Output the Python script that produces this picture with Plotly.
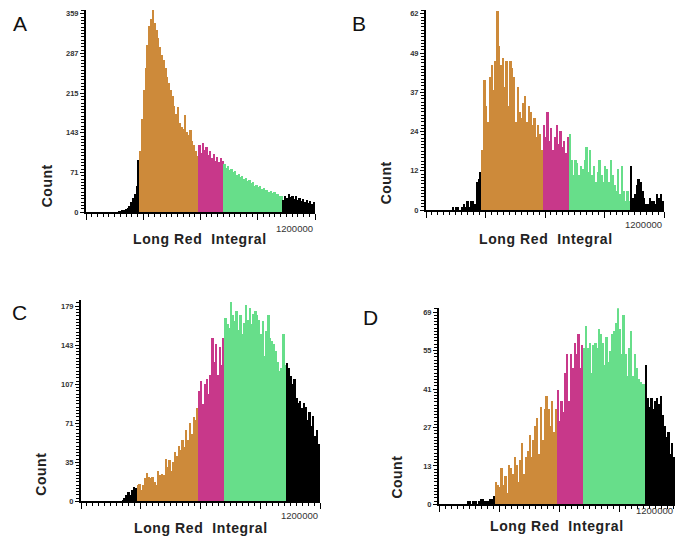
import plotly.graph_objects as go

# ---------------- data ----------------
BIN_WIDTH = 9375            # 256 channels over 0..1,200,000, two channels per bar
X_MAX = 1200000
GATES = [282000, 586000, 726000, 1031000]   # gate edges (Long Red Integral)
GATE_COLORS = ["#000000", "#CD8A3A", "#C8388A", "#67DE8A", "#000000"]

counts_A = [0, 0, 0, 0, 0, 0, 0, 0, 0, 0, 0, 0, 0, 0, 0, 0, 0, 0,
            1, 2, 3, 4, 6, 8, 12, 18, 25, 32, 48, 95,
            110, 168, 222, 262, 302, 338, 350, 366, 342, 330, 316, 300, 285, 275, 262, 245, 234,
            222, 210, 192, 178, 190, 162, 155, 150, 176, 145, 140, 148, 128, 122, 110, 102,
            122, 108, 125, 112, 118, 104, 110, 98, 105, 92, 100, 90, 98, 92,
            88, 80, 84, 76, 78, 72, 75, 68, 70, 64, 66, 60, 62, 56, 58, 52, 55, 48, 50, 45,
            47, 42, 44, 40, 41, 37, 38, 35, 36, 33, 32, 30, 29,
            22, 30, 26, 32, 28, 30, 24, 29, 22, 26, 20, 24, 18, 22, 17, 20, 15, 18]

counts_B = [0, 0, 0, 0, 0, 0, 0, 0, 0, 0, 0, 0, 0, 0,
            1, 0, 1, 1, 0, 1, 2, 1, 3, 1, 3, 3, 2, 9, 10, 12,
            19, 41, 33, 28, 42, 46, 38, 47, 63, 52, 46, 48, 39, 47, 33, 47, 45, 42, 28, 39,
            31, 29, 34, 36, 28, 33, 31, 27, 29, 23, 27, 24, 19,
            27, 23, 31, 22, 26, 19, 23, 27, 21, 25, 20, 22, 18, 23,
            24, 16, 11, 16, 15, 11, 14, 13, 16, 20, 12, 19, 11, 14, 9, 12, 16, 11, 9, 14,
            13, 9, 16, 11, 8, 6, 13, 5, 14, 6, 3, 6, 3,
            14, 4, 5, 8, 10, 9, 6, 4, 2, 2, 4, 3, 3, 2, 5, 4, 5, 3]

counts_C = [0, 0, 0, 0, 0, 0, 0, 0, 0, 0, 0, 0, 0, 0, 0, 0, 0, 0, 0, 0, 0, 0,
            1, 3, 6, 8, 6, 10, 13, 12,
            15, 16, 10, 15, 21, 26, 22, 21, 22, 18, 15, 28, 24, 25, 24, 39, 31, 38, 28, 36,
            45, 41, 51, 47, 56, 50, 65, 56, 72, 62, 77, 74, 85,
            101, 110, 89, 107, 112, 98, 116, 150, 128, 144, 116, 141, 125, 150,
            168, 162, 159, 183, 171, 165, 174, 157, 171, 153, 163, 180, 166, 177, 162, 172,
            174, 171, 166, 153, 165, 133, 156, 171, 150, 147, 144, 138, 128, 119, 122, 153, 125,
            127, 122, 115, 107, 112, 95, 90, 92, 85, 90, 86, 74, 82, 69, 78, 60, 65, 52]

counts_D = [0, 0, 0, 0, 0, 0, 0, 0, 0, 0, 0, 0, 0, 0, 0,
            1, 1, 0, 1, 1, 0, 1, 2, 2, 1, 1, 1, 2, 2, 3,
            8, 7, 6, 13, 7, 10, 4, 14, 13, 11, 17, 14, 8, 16, 22, 11, 17, 19, 25, 17,
            23, 28, 31, 18, 35, 23, 34, 39, 34, 28, 37, 26, 34,
            41, 30, 37, 33, 47, 54, 37, 54, 49, 58, 54, 61, 49, 57,
            56, 64, 56, 58, 47, 57, 58, 56, 63, 61, 58, 50, 60, 51, 55, 61, 62, 65, 71, 63,
            54, 68, 54, 46, 56, 62, 46, 54, 49, 45, 44, 43, 43,
            50, 38, 35, 38, 34, 37, 38, 36, 39, 32, 28, 24, 26, 18, 22, 17]

ymax_A, ymax_B, ymax_C, ymax_D = 359, 62, 179, 69
yticks_A = ["0", "71", "143", "215", "287", "359"]
yticks_B = ["0", "12", "24", "37", "49", "62"]
yticks_C = ["0", "35", "71", "107", "143", "179"]
yticks_D = ["0", "13", "27", "41", "55", "69"]
x_major_ticks = [0, 300000, 600000, 900000, 1200000]

panel_letters = ["A", "B", "C", "D"]
x_title = "Long Red\u00a0 Integral"
y_title = "Count"
x_end_label = "1200000"

# ---------------- layout geometry (pixels) ----------------
W, H = 675, 548
FONT = "Liberation Sans, Arial, sans-serif"


def fx(px):
    return px / W


def fy(py):
    return 1 - py / H


panels = [
    dict(counts=counts_A, ymax=ymax_A, yt=yticks_A, x0=86, x1=315, base=214, top=10, lab=14,
         letter=(20, 24), count=(47, 188), xt=(200, 241), endlab=223),
    dict(counts=counts_B, ymax=ymax_B, yt=yticks_B, x0=426, x1=664, base=212, top=10, lab=14,
         letter=(359, 24), count=(386, 185), xt=(546, 241), endlab=219),
    dict(counts=counts_C, ymax=ymax_C, yt=yticks_C, x0=81, x1=320, base=506, top=303, lab=309,
         letter=(19, 315), count=(41, 479), xt=(201, 533), endlab=513),
    dict(counts=counts_D, ymax=ymax_D, yt=yticks_D, x0=439, x1=679, base=509, top=311, lab=315,
         letter=(370, 320), count=(397, 482), xt=(557, 531), endlab=508),
]


def color_for(x):
    k = sum(1 for g in GATES if x >= g)
    return GATE_COLORS[k]


def spaced(txt, px):
    return '<span style="letter-spacing:%spx">%s</span>' % (px, txt)


fig = go.Figure()
annotations = []
layout = {}

for i, p in enumerate(panels):
    xa = "x" if i == 0 else f"x{i + 1}"
    ya = "y" if i == 0 else f"y{i + 1}"
    xname = "xaxis" if i == 0 else f"xaxis{i + 1}"
    yname = "yaxis" if i == 0 else f"yaxis{i + 1}"

    counts = p["counts"]
    centers = [(k + 0.5) * BIN_WIDTH for k in range(len(counts))]
    colors = [color_for(c) for c in centers]

    fig.add_trace(go.Bar(
        x=centers, y=counts, width=BIN_WIDTH,
        marker=dict(color=colors, line=dict(width=0)),
        xaxis=xa, yaxis=ya, showlegend=False, hoverinfo="skip",
    ))

    x1c = min(p["x1"], W)
    xr = X_MAX * (x1c - p["x0"]) / (p["x1"] - p["x0"])
    yr = p["ymax"] * (p["base"] - p["top"]) / (p["base"] - p["lab"])

    layout[xname] = dict(
        domain=[fx(p["x0"]), fx(x1c)], range=[0, xr], anchor=ya,
        showline=True, linewidth=2, linecolor="black",
        showgrid=False, zeroline=False,
        tickmode="array", tickvals=x_major_ticks, ticks="outside",
        ticklen=6, tickwidth=1, tickcolor="black", showticklabels=False,
        minor=dict(dtick=30000, tick0=0, ticks="outside", ticklen=3,
                   tickwidth=1, tickcolor="black", showgrid=False),
    )
    layout[yname] = dict(
        domain=[fy(p["base"]), fy(p["top"])], range=[0, yr], anchor=xa,
        showline=True, linewidth=2, linecolor="black",
        showgrid=False, zeroline=False,
        tickmode="array", tickvals=[p["ymax"] * k / 5 for k in range(6)], ticktext=p["yt"],
        ticks="outside", ticklen=4, tickwidth=1, tickcolor="black",
        tickfont=dict(family=FONT, size=7.5, color="#333333", weight="bold"),
        minor=dict(dtick=p["ymax"] / 60, tick0=0, ticks="outside", ticklen=3,
                   tickwidth=1, tickcolor="black", showgrid=False),
    )

    end_x = min(p["x1"], W)
    annotations.append(dict(
        text=panel_letters[i], x=fx(p["letter"][0]), y=fy(p["letter"][1]),
        xref="paper", yref="paper", showarrow=False, xanchor="center", yanchor="middle",
        font=dict(family=FONT, size=21, color="#111111")))
    annotations.append(dict(
        text="<b>" + spaced(y_title, 0.5) + "</b>", x=fx(p["count"][0]), y=fy(p["count"][1]),
        xref="paper", yref="paper", showarrow=False, textangle=-90,
        xanchor="center", yanchor="middle",
        font=dict(family=FONT, size=14, color="#222222")))
    annotations.append(dict(
        text="<b>" + spaced(x_title, 0.6) + "</b>", x=fx(p["xt"][0]), y=fy(p["xt"][1]),
        xref="paper", yref="paper", showarrow=False, xanchor="center", yanchor="middle",
        font=dict(family=FONT, size=14, color="#222222")))
    annotations.append(dict(
        text=x_end_label, x=fx(end_x), y=fy(p["endlab"]),
        xref="paper", yref="paper", showarrow=False, xanchor="right", yanchor="top",
        font=dict(family=FONT, size=9.5, color="#333333")))

fig.update_layout(
    width=W, height=H, margin=dict(l=0, r=0, t=0, b=0),
    paper_bgcolor="white", plot_bgcolor="white",
    bargap=0, barmode="overlay", showlegend=False,
    annotations=annotations, **layout,
)

fig.write_html("out.html")
